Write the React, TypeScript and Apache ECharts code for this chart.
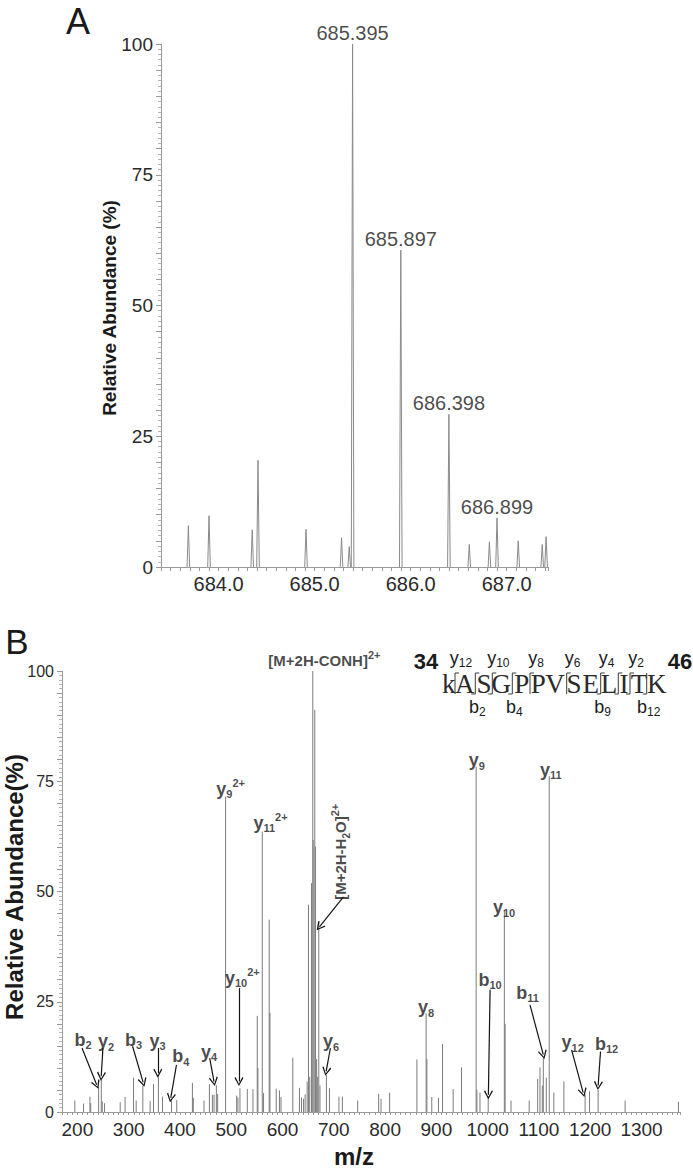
import React, { useEffect, useRef } from 'react';
import * as echarts from 'echarts';

// ---------------- Panel A: precursor isotope envelope ----------------
const aMz = [683.685, 683.9, 684.35, 684.41, 684.91, 685.28, 685.36, 685.395, 685.897, 686.398, 686.61, 686.82, 686.899, 687.12, 687.37, 687.41];
const aAbund = [7.9, 9.8, 7.1, 20.4, 7.2, 5.6, 3.9, 100, 60.6, 29.2, 4.3, 4.8, 9.4, 5.0, 4.3, 5.8];
const aLabelMz = [685.395, 685.897, 686.398, 686.899];
const aLabelAbund = [100, 60.6, 29.2, 9.4];
const aXTickLabels = [684.0, 685.0, 686.0, 687.0];
const yTickLabels = [0, 25, 50, 75, 100];

// ---------------- Panel B: MS/MS spectrum ----------------
const bMz = [195, 212, 224.5, 226, 241.4, 246.6, 248.5, 253, 283.5, 293, 309.5, 314.6, 327.6, 341.8, 348.4, 358, 366, 383.5, 393.8,
  424.3, 426, 446.9, 457.4, 463.2, 466.4, 471, 473.5, 489, 510.5, 513, 517, 531.3, 542.3, 550.7, 552, 560.5, 563, 574, 575.5,
  587.7, 594, 597, 620, 633, 637, 641, 644, 648, 650.6, 653, 656.4, 659, 659.7, 662.9, 664.2, 666.5, 668.5, 670.7, 673,
  685.6, 691.5, 710, 716.7, 746.5, 787.4, 792, 808.8, 862, 880, 881.5, 891, 904, 912, 932.7, 949, 977.5, 979, 985, 1001,
  1032.5, 1034, 1045.5, 1081, 1097.5, 1102, 1106.5, 1108.5, 1114.3, 1120, 1129, 1148.6, 1190, 1198.6, 1215.4, 1268, 1372];
const bAbund = [2.6, 1.9, 3.5, 2.0, 5.8, 7.5, 2.4, 2.0, 2.2, 3.4, 7.8, 2.6, 6.0, 2.5, 6.3, 8.1, 3.5, 2.7, 2.7,
  6.6, 3.2, 2.6, 6.3, 3.9, 3.9, 6.1, 4.1, 71.5, 3.7, 3.3, 5.4, 5.2, 5.2, 21.8, 10, 63.6, 4.3, 43.6, 22.5,
  5.3, 4.9, 3.4, 12.3, 5.5, 3.3, 3.0, 4.0, 6.9, 47, 8, 51.9, 100, 61.7, 91.2, 60.2, 12, 8, 43.2, 6,
  8.4, 5.4, 3.5, 3.5, 2.6, 4.1, 3.0, 4.4, 11.9, 22.4, 12, 3.4, 3.2, 15.4, 5.2, 10.1, 78.3, 5, 4.4, 3.6,
  45.8, 20, 2.6, 2.6, 7.5, 10.1, 6, 12.3, 7.8, 76.2, 4.4, 6.9, 4.0, 4.7, 5.0, 2.6, 2.3];

// fragment annotations (label text, label anchor in data units)
const bLabelText = ['{m|b}{s|2}', '{m|y}{s|2}', '{m|b}{s|3}', '{m|y}{s|3}', '{m|b}{s|4}', '{m|y}{s|4}',
  '{m|y}{s|9}{p|2+}', '{m|y}{s|11}{p|2+}', '{m|y}{s|10}{p|2+}', '{c|[M+2H-CONH]}{p|2+}', '{m|y}{s|6}',
  '{m|y}{s|8}', '{m|y}{s|9}', '{m|y}{s|10}', '{m|b}{s|10}', '{m|y}{s|11}', '{m|b}{s|11}', '{m|y}{s|12}', '{m|b}{s|12}'];
const bLabelMz = [210.9, 255.7, 309.5, 356.2, 401.6, 456.6, 498.8, 576.7, 521.6, 681.7, 694.4,
  879.8, 978.8, 1032, 1004.7, 1123, 1077.6, 1165.8, 1231.7];
const bLabelAbund = [16.4, 16.0, 16.4, 16.2, 12.6, 13.7, 73.3, 65.6, 30.4, 102.3, 16.0,
  23.7, 79.8, 46.4, 30.0, 77.6, 27.0, 15.8, 15.5];
const bRotLabelText = '{c|[M+2H-H}{cs|2}{c|O]}{p|2+}';
const bRotLabelPos = [712.9, 59.0];

// arrows: [fromMz, fromAbund, toMz, toAbund]
const bArrows = [
  [209, 14.5, 237.6, 6.2],
  [249.8, 14.5, 246.5, 8.1],
  [307.6, 14.9, 328.2, 6.7],
  [356.8, 14.5, 356.8, 8.8],
  [393.2, 10.7, 382.1, 3.2],
  [458, 12.2, 466.4, 6.9],
  [515, 28.1, 515, 6.9],
  [693.4, 14.5, 685, 9.2],
  [718.7, 48.8, 672, 42],
  [1004.7, 27.7, 1001.4, 3.9],
  [1082.5, 24.3, 1108.4, 13.0],
  [1163.6, 14.1, 1186.2, 4.4],
  [1220, 13.7, 1215.4, 6.0],
];
const bXTickLabels = [200, 300, 400, 500, 600, 700, 800, 900, 1000, 1100, 1200, 1300];

// peptide sequence annotation
const seqLetters = ['k', 'A', 'S', 'G', 'P', 'P', 'V', 'S', 'E', 'L', 'I', 'T', 'K'];
const seqStart = '34';
const seqEnd = '46';
const yIonSitesSeen = [1, 2, 3, 4, 5, 7, 9, 10, 11];
const bIonSitesSeen = [2, 3, 4, 9, 10, 11, 12];
const yIonLabels = [12, 10, 8, 6, 4, 2];
const bIonLabels = [2, 4, 9, 12];

const SANS = '"Liberation Sans", Arial, Helvetica, sans-serif';
const SERIF = '"Liberation Serif", "Times New Roman", serif';
const TXT = '#1a1a1a';

// layout (pixels) for the sequence block
const letterX = [448.7, 464.7, 484, 501.3, 521.7, 538.3, 555, 574, 590.7, 609, 624, 639, 656.7];
const siteX = [0, 455, 475.3, 492.3, 512.3, 530, 546.5, 566.7, 582, 600.7, 618.3, 630, 646.7];

function near(list: number[], v: number) {
  return list.some((t) => Math.abs(t - v) < 1e-6);
}

const chevron = 'path://M5,0L10,9L8.8,10L5,2.6L1.2,10L0,9Z';

export default function App() {
  const ref = useRef<HTMLDivElement>(null);
  useEffect(() => {
    if (!ref.current) return;
    const chart = echarts.init(ref.current, null, { renderer: 'svg' });

    const rich = {
      m: { fontFamily: SANS, fontWeight: 'bold', fontSize: 18, color: TXT, lineHeight: 22 },
      s: { fontFamily: SANS, fontWeight: 'bold', fontSize: 11, color: TXT, verticalAlign: 'bottom' },
      p: { fontFamily: SANS, fontWeight: 'bold', fontSize: 11, color: TXT, verticalAlign: 'top' },
      c: { fontFamily: SANS, fontWeight: 'bold', fontSize: 15, color: TXT, lineHeight: 22 },
      cs: { fontFamily: SANS, fontWeight: 'bold', fontSize: 10, color: TXT, verticalAlign: 'bottom' },
    };

    const graphics: any[] = [];
    graphics.push({ type: 'text', x: 78, y: 21, style: { text: 'A', font: `36px ${SANS}`, fill: TXT, textAlign: 'center', textVerticalAlign: 'middle' } });
    graphics.push({ type: 'text', x: 17, y: 641, style: { text: 'B', font: `35px ${SANS}`, fill: TXT, textAlign: 'center', textVerticalAlign: 'middle' } });
    graphics.push({ type: 'text', x: 109, y: 308, rotation: Math.PI / 2, style: { text: 'Relative Abundance (%)', font: `bold 19px ${SANS}`, fill: TXT, textAlign: 'center', textVerticalAlign: 'middle' } });
    graphics.push({ type: 'text', x: 14, y: 887, rotation: Math.PI / 2, style: { text: 'Relative Abundance(%)', font: `bold 24px ${SANS}`, fill: TXT, textAlign: 'center', textVerticalAlign: 'middle' } });
    graphics.push({ type: 'text', x: 354, y: 1156, style: { text: 'm/z', font: `bold 24px ${SANS}`, fill: TXT, textAlign: 'center', textVerticalAlign: 'middle' } });

    // sequence
    graphics.push({ type: 'text', x: 426, y: 661, style: { text: seqStart, font: `bold 22px ${SANS}`, fill: TXT, textAlign: 'center', textVerticalAlign: 'middle' } });
    graphics.push({ type: 'text', x: 680, y: 661, style: { text: seqEnd, font: `bold 22px ${SANS}`, fill: TXT, textAlign: 'center', textVerticalAlign: 'middle' } });
    seqLetters.forEach((L, i) => {
      graphics.push({ type: 'text', x: letterX[i], y: 684, style: { text: L, font: `27px ${SERIF}`, fill: '#2a2a2a', textAlign: 'center', textVerticalAlign: 'middle' } });
    });
    const top = 673, bot = 694, stub = 4;
    const sites = Array.from(new Set([...yIonSitesSeen, ...bIonSitesSeen]));
    sites.forEach((s) => {
      const x = siteX[s];
      graphics.push({ type: 'line', shape: { x1: x, y1: top, x2: x, y2: bot }, style: { stroke: '#3a3a3a', lineWidth: 1 } });
    });
    yIonSitesSeen.forEach((s) => {
      const x = siteX[s];
      graphics.push({ type: 'line', shape: { x1: x, y1: top, x2: x + stub, y2: top }, style: { stroke: '#3a3a3a', lineWidth: 1 } });
    });
    bIonSitesSeen.forEach((s) => {
      const x = siteX[s];
      graphics.push({ type: 'line', shape: { x1: x - stub, y1: bot, x2: x, y2: bot }, style: { stroke: '#3a3a3a', lineWidth: 1 } });
    });
    const seqRich = {
      m: { fontFamily: SANS, fontSize: 18, fill: TXT, color: TXT, lineHeight: 22 },
      s: { fontFamily: SANS, fontSize: 12, fill: TXT, color: TXT, verticalAlign: 'bottom' },
    };
    yIonLabels.forEach((n) => {
      const x = siteX[13 - n] + 6;
      graphics.push({ type: 'text', x, y: 658, style: { text: `{m|y}{s|${n}}`, rich: seqRich, textAlign: 'center', textVerticalAlign: 'middle' } });
    });
    bIonLabels.forEach((n) => {
      const x = siteX[n] + 2;
      graphics.push({ type: 'text', x, y: 707, style: { text: `{m|b}{s|${n}}`, rich: seqRich, textAlign: 'center', textVerticalAlign: 'middle' } });
    });

    const yAxisCommon = (fs: number) => ({
      type: 'value',
      min: 0,
      max: 100,
      interval: 5,
      axisLine: { show: true, lineStyle: { color: '#9a9a9a', width: 1 } },
      axisTick: { show: true, length: 5, lineStyle: { color: '#9a9a9a' } },
      minorTick: { show: true, splitNumber: 5, length: 3, lineStyle: { color: '#b5b5b5' } },
      splitLine: { show: false },
      minorSplitLine: { show: false },
      axisLabel: {
        margin: 8,
        fontFamily: SANS,
        fontSize: fs,
        color: '#2a2a2a',
        formatter: (v: number) => (near(yTickLabels, v) ? String(Math.round(v)) : ''),
      },
    });

    const option: any = {
      animation: false,
      backgroundColor: '#ffffff',
      grid: [
        { left: 161, top: 44, width: 387, height: 523 },
        { left: 62, top: 671, width: 618, height: 441 },
      ],
      xAxis: [
        {
          type: 'value', gridIndex: 0, min: 683.4, max: 687.43, interval: 0.1,
          axisLine: { show: true, onZero: false, lineStyle: { color: '#9a9a9a' } },
          axisTick: { show: true, length: 4, lineStyle: { color: '#9a9a9a' } },
          splitLine: { show: false },
          axisLabel: {
            margin: 7, fontFamily: SANS, fontSize: 20, color: '#2a2a2a',
            formatter: (v: number) => (near(aXTickLabels, v) ? v.toFixed(1) : ''),
          },
        },
        {
          type: 'value', gridIndex: 1, min: 170, max: 1375, interval: 10,
          axisLine: { show: true, onZero: false, lineStyle: { color: '#9a9a9a' } },
          axisTick: { show: true, length: 3, lineStyle: { color: '#9a9a9a' } },
          splitLine: { show: false },
          axisLabel: {
            margin: 8, fontFamily: SANS, fontSize: 19, color: '#2a2a2a',
            formatter: (v: number) => (near(bXTickLabels, v) ? String(Math.round(v)) : ''),
          },
        },
      ],
      yAxis: [
        { ...yAxisCommon(19), gridIndex: 0 },
        { ...yAxisCommon(16), gridIndex: 1 },
      ],
      series: [
        {
          type: 'custom', xAxisIndex: 0, yAxisIndex: 0, clip: true,
          data: aMz.map((m, i) => [m, aAbund[i]]),
          renderItem: (params: any, api: any) => {
            const b = api.coord([api.value(0), 0]);
            const t = api.coord([api.value(0), api.value(1)]);
            return {
              type: 'polyline',
              shape: { points: [[b[0] - 1.3, b[1]], [t[0], t[1]], [b[0] + 1.3, b[1]]] },
              style: { stroke: '#8a8a8a', lineWidth: 1, fill: 'none' },
            };
          },
        },
        {
          type: 'scatter', xAxisIndex: 0, yAxisIndex: 0, symbolSize: 0,
          data: aLabelMz.map((m, i) => [m, aLabelAbund[i]]),
          label: {
            show: true, position: 'top', distance: 1,
            fontFamily: SANS, fontSize: 20, color: TXT,
            formatter: (p: any) => p.value[0].toFixed(3),
          },
          silent: true,
        },
        {
          type: 'custom', xAxisIndex: 1, yAxisIndex: 1, clip: true,
          data: bMz.map((m, i) => [m, bAbund[i]]),
          renderItem: (params: any, api: any) => {
            const b = api.coord([api.value(0), 0]);
            const t = api.coord([api.value(0), api.value(1)]);
            return {
              type: 'line',
              shape: { x1: b[0], y1: b[1], x2: t[0], y2: t[1] },
              style: { stroke: '#7c7c7c', lineWidth: 1 },
            };
          },
        },
        {
          type: 'scatter', xAxisIndex: 1, yAxisIndex: 1, symbolSize: 0, clip: false, silent: true,
          data: [
            ...bLabelMz.map((m, i) => ({ value: [m, bLabelAbund[i]], txt: bLabelText[i] })),
            { value: bRotLabelPos, txt: bRotLabelText, label: { rotate: 90 } },
          ],
          label: {
            show: true, position: 'inside', align: 'center', verticalAlign: 'middle',
            formatter: (p: any) => p.data.txt,
            rich,
          },
        },
        {
          type: 'lines', coordinateSystem: 'cartesian2d', xAxisIndex: 1, yAxisIndex: 1,
          symbol: ['none', chevron], symbolSize: 9, silent: true,
          lineStyle: { color: '#141414', width: 1.2, opacity: 1 },
          data: bArrows.map((a) => ({ coords: [[a[0], a[1]], [a[2], a[3]]] })),
        },
      ],
      graphic: graphics,
    };
    chart.setOption(option);
    return () => chart.dispose();
  }, []);
  return <div ref={ref} style={{ position: 'absolute', left: 0, top: 0, width: 693, height: 1171, background: '#fff' }} />;
}
